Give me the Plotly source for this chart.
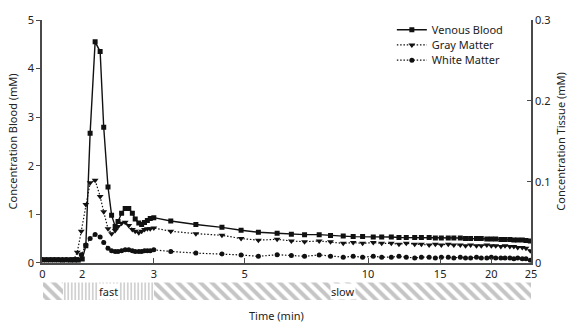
import numpy as np
import plotly.graph_objects as go

# ---------------- data ----------------
t_blood = [0, 0.2, 0.4, 0.6, 0.8, 1.0, 1.2, 1.4, 1.6, 1.8, 2.0,
           2.05, 2.11, 2.18, 2.25, 2.3, 2.36, 2.41, 2.46, 2.5, 2.55, 2.6, 2.65, 2.7, 2.74,
           2.79, 2.83, 2.87, 2.91, 2.95, 3.0,
           3.3, 3.8, 4.4, 4.9, 5.4, 6.0, 6.5, 7.0, 7.6, 8.1, 8.7, 9.2, 9.7, 10.3, 10.8,
           11.4, 11.9, 12.4, 13.0, 13.5, 14.1, 14.6, 15.1, 15.7, 16.2, 16.8, 17.3, 17.8,
           18.4, 18.9, 19.5, 20.0, 20.5, 21.1, 21.6, 22.2, 22.7, 23.2, 23.8, 24.3, 24.9]
venous_blood = [0.06, 0.06, 0.06, 0.06, 0.06, 0.05, 0.06, 0.05, 0.05, 0.05, 0.08,
                0.35, 2.67, 4.55, 4.35, 2.79, 1.56, 0.98, 0.75, 0.85, 1.02, 1.12, 1.12, 1.02, 0.90,
                0.82, 0.79, 0.83, 0.87, 0.91, 0.93,
                0.86, 0.79, 0.73, 0.67, 0.63, 0.61, 0.59, 0.58, 0.58, 0.56, 0.55, 0.54, 0.54, 0.53, 0.53,
                0.53, 0.52, 0.52, 0.52, 0.52, 0.52, 0.51, 0.51, 0.51, 0.51, 0.51, 0.50, 0.50,
                0.50, 0.50, 0.49, 0.49, 0.49, 0.48, 0.48, 0.48, 0.47, 0.47, 0.47, 0.46, 0.45]

t_tissue = [0, 0.2, 0.4, 0.6, 0.8, 1.0, 1.2, 1.4, 1.6, 1.75, 1.95,
            2.05, 2.11, 2.18, 2.25, 2.3, 2.36, 2.41, 2.46, 2.5, 2.55, 2.6, 2.65, 2.7, 2.74,
            2.79, 2.83, 2.87, 2.91, 2.95, 3.0,
            3.3, 3.8, 4.4, 4.9, 5.4, 6.0, 6.5, 7.0, 7.6, 8.1, 8.7, 9.2, 9.7, 10.3, 10.8,
            11.4, 11.9, 12.4, 13.0, 13.5, 14.1, 14.6, 15.1, 15.7, 16.2, 16.8, 17.3, 17.8,
            18.4, 18.9, 19.5, 20.0, 20.5, 21.1, 21.6, 22.2, 22.7, 23.2, 23.8, 24.3, 24.9]
gray_matter = [0.004, 0.004, 0.004, 0.004, 0.004, 0.004, 0.004, 0.004, 0.005, 0.013, 0.039,
               0.072, 0.099, 0.102, 0.082, 0.063, 0.042, 0.036, 0.040, 0.045, 0.049, 0.050, 0.046, 0.041, 0.039,
               0.037, 0.039, 0.041, 0.042, 0.042, 0.043,
               0.039, 0.036, 0.034, 0.030, 0.028, 0.029, 0.027, 0.026, 0.027, 0.026, 0.024, 0.025, 0.024, 0.025, 0.024,
               0.024, 0.023, 0.024, 0.023, 0.023, 0.022, 0.023, 0.022, 0.023, 0.022, 0.022, 0.021, 0.022,
               0.021, 0.021, 0.022, 0.021, 0.021, 0.020, 0.021, 0.020, 0.020, 0.019, 0.019, 0.018, 0.015]
white_matter = [0.004, 0.004, 0.004, 0.004, 0.004, 0.004, 0.004, 0.004, 0.004, 0.004, 0.010,
                0.022, 0.030, 0.035, 0.032, 0.025, 0.018, 0.015, 0.014, 0.014, 0.015, 0.016, 0.016, 0.015, 0.014,
                0.014, 0.014, 0.015, 0.015, 0.015, 0.016,
                0.014, 0.012, 0.011, 0.0097, 0.008, 0.010, 0.009, 0.008, 0.0097, 0.008, 0.007, 0.008, 0.007, 0.008, 0.007,
                0.007, 0.008, 0.007, 0.006, 0.007, 0.007, 0.006, 0.007, 0.007, 0.006, 0.007, 0.006, 0.006,
                0.007, 0.006, 0.006, 0.007, 0.006, 0.006, 0.006, 0.006, 0.005, 0.006, 0.005, 0.005, 0.003]

x_tick_vals = [0, 2, 3, 5, 10, 15, 20, 25]
x_tick_labels = ["0", "2", "3", "5", "10", "15", "20", "25"]
x_mark_vals = [3, 5, 10, 15, 20]
phase_names = ["", "fast", "slow"]
phase_start = [0, 1.05, 3.0]
phase_end = [1.05, 3.0, 25.2]
phase_kind = ["slow", "fast", "slow"]

# -------- piecewise time axis: 0-2 compressed, 2-3 expanded, >3 logarithmic --------
def tx(t):
    t = np.asarray(t, dtype=float)
    return np.where(t <= 2, 20 * t,
                    np.where(t <= 3, 40 + 72 * (t - 2),
                             112 + 179 * np.log(np.maximum(t, 1e-9) / 3)))

W, H = 578, 325
ML, MR, MT, MB = 40, 46, 14, 25
ph = H - MT - MB
main_dom = [(300 - 262) / ph, 1]
band_dom = [0, (300 - 282) / ph]
xr = [-0.5, 491.5]

FONT = "Noto Sans"
TXT = "#222222"
AX = "#4a4a4a"
DOT = "1.5px,1.8px"

def py(ypx):
    return (H - MB - ypx) / ph

fig = go.Figure()

fig.add_trace(go.Scatter(x=tx(t_blood), y=venous_blood, name="Venous Blood", mode="lines+markers",
                         line=dict(color="#111111", width=1.4),
                         marker=dict(symbol="square", size=5, color="#111111"),
                         xaxis="x", yaxis="y", legend="legend"))
fig.add_trace(go.Scatter(x=tx(t_tissue), y=gray_matter, name="Gray Matter", mode="lines+markers",
                         line=dict(color="#111111", width=1.2, dash=DOT),
                         marker=dict(symbol="triangle-down", size=6, color="#111111"),
                         xaxis="x", yaxis="y2", legend="legend2"))
fig.add_trace(go.Scatter(x=tx(t_tissue), y=white_matter, name="White Matter", mode="lines+markers",
                         line=dict(color="#111111", width=1.2, dash=DOT),
                         marker=dict(symbol="circle", size=5, color="#111111"),
                         xaxis="x", yaxis="y2", legend="legend3"))
# empty trace to hold tick-mark overlay axis
fig.add_trace(go.Scatter(x=[], y=[], xaxis="x3", yaxis="y", showlegend=False, hoverinfo="skip"))

# band of acquisition phases
for kind, s, e in zip(phase_kind, phase_start, phase_end):
    u0, u1 = float(tx(s)), float(tx(e))
    fig.add_trace(go.Bar(x=[(u0 + u1) / 2], y=[1], width=[u1 - u0], base=0,
                         xaxis="x2", yaxis="y3", showlegend=False, hoverinfo="skip",
                         marker=dict(color="white", line=dict(width=0),
                                     pattern=dict(shape="\\" if kind == "slow" else "|",
                                                  fgcolor="#8c8c8c", bgcolor="white",
                                                  size=8 if kind == "slow" else 3.5,
                                                  solidity=0.5 if kind == "slow" else 0.4))))

annotations = []
for name, s, e in zip(phase_names, phase_start, phase_end):
    if name:
        annotations.append(dict(x=float((tx(s) + tx(e)) / 2), y=0.5, xref="x2", yref="y3",
                                text=name, showarrow=False, bgcolor="white", borderpad=0,
                                font=dict(family=FONT, size=11, color=TXT)))
annotations.append(dict(x=(276 - ML) / (W - ML - MR), y=py(316), xref="paper", yref="paper",
                        text="Time (min)", showarrow=False, yanchor="middle",
                        font=dict(family=FONT, size=11, color=TXT)))

leg_common = dict(xanchor="left", yanchor="middle", bgcolor="rgba(0,0,0,0)",
                  font=dict(family=FONT, size=11, color=TXT), itemwidth=30)
lx = (392 - ML) / (W - ML - MR)

fig.update_layout(
    width=W, height=H, margin=dict(l=ML, r=MR, t=MT, b=MB),
    paper_bgcolor="white", plot_bgcolor="white",
    font=dict(family=FONT, size=11, color=TXT),
    showlegend=True, bargap=0,
    legend=dict(x=lx, y=py(24), **leg_common),
    legend2=dict(x=lx, y=py(39.5), **leg_common),
    legend3=dict(x=lx, y=py(55), **leg_common),
    xaxis=dict(domain=[0, 1], anchor="y", range=xr, tickmode="array",
               tickvals=list(tx(x_tick_vals)), ticktext=x_tick_labels, ticks="",
               showline=True, linecolor=AX, linewidth=1.5, showgrid=False, zeroline=False,
               tickfont=dict(family=FONT, size=11, color=TXT)),
    xaxis3=dict(overlaying="x", anchor="y", range=xr, tickmode="array",
                tickvals=list(tx(x_mark_vals)), showticklabels=False, ticks="inside",
                ticklen=5, tickwidth=1.3, tickcolor=AX, showline=False, showgrid=False,
                zeroline=False),
    xaxis2=dict(domain=[0, 1], anchor="y3", matches="x", visible=False),
    yaxis=dict(domain=main_dom, anchor="x", range=[0, 5], tickvals=[0, 1, 2, 3, 4, 5],
               ticks="outside", ticklen=4, tickwidth=1.3, tickcolor=AX,
               showline=True, linecolor=AX, linewidth=1.5, showgrid=False, zeroline=False,
               title=dict(text="Concentration Blood (mM)", standoff=8,
                          font=dict(family=FONT, size=11, color=TXT))),
    yaxis2=dict(overlaying="y", side="right", anchor="x", range=[0, 0.3],
                tickvals=[0, 0.1, 0.2, 0.3], ticks="inside", ticklen=4, tickwidth=1.3,
                tickcolor=AX, showline=True, linecolor=AX, linewidth=1.5,
                showgrid=False, zeroline=False,
                title=dict(text="Concentration Tissue (mM)", standoff=8,
                           font=dict(family=FONT, size=11, color=TXT))),
    yaxis3=dict(domain=band_dom, anchor="x2", range=[0, 1], visible=False),
    annotations=annotations,
)

fig.write_html("out.html")
